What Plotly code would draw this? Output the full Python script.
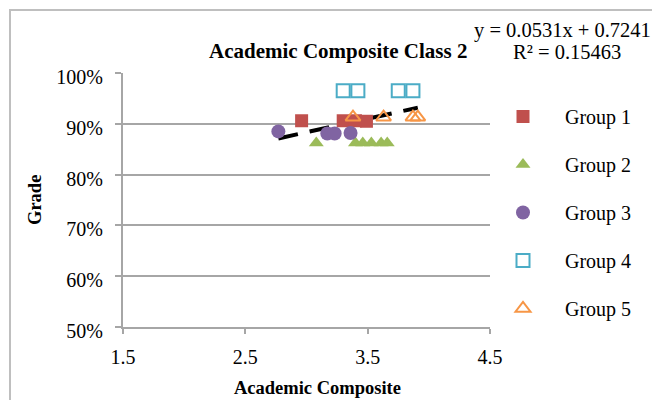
import plotly.graph_objects as go

# ---- data ----
g1_x = [2.96, 3.30, 3.40, 3.49]
g1_y = [0.906, 0.906, 0.906, 0.905]
g2_x = [3.08, 3.40, 3.46, 3.53, 3.61, 3.66]
g2_y = [0.862, 0.862, 0.862, 0.862, 0.862, 0.862]
g3_x = [2.77, 3.17, 3.23, 3.36]
g3_y = [0.885, 0.881, 0.881, 0.882]
g4_x = [3.30, 3.42, 3.75, 3.87]
g4_y = [0.965, 0.965, 0.965, 0.965]
g5_x = [3.38, 3.63, 3.87, 3.91]
g5_y = [0.913, 0.913, 0.913, 0.913]

slope = 0.0531
intercept = 0.7241
r2 = 0.15463

series = [
    ("Group 1", g1_x, g1_y, "square", "#C0504D", True),
    ("Group 2", g2_x, g2_y, "triangle-up", "#9BBB59", True),
    ("Group 3", g3_x, g3_y, "circle", "#8064A2", True),
    ("Group 4", g4_x, g4_y, "square-open", "#4BACC6", False),
    ("Group 5", g5_x, g5_y, "triangle-up-open", "#F79646", False),
]

FONT = "Liberation Serif, Times New Roman, serif"

fig = go.Figure()

all_x = g1_x + g2_x + g3_x + g4_x + g5_x
tx = [min(all_x), max(all_x)]
ty = [slope * v + intercept for v in tx]
fig.add_trace(go.Scatter(x=tx, y=ty, mode="lines", showlegend=False,
                         line=dict(color="black", width=4, dash="20px,12px"),
                         hoverinfo="skip"))

for i, (name, xs, ys, sym, col, filled) in enumerate(series):
    fig.add_trace(go.Scatter(
        x=xs, y=ys, mode="markers", name=name, legendgroup=f"g{i}",
        marker=dict(symbol=sym, size=13 if "circle" not in sym else 14,
                    color=col, line=dict(color=col, width=2 if not filled else 0)),
    ))

W, H = 652, 400
L, R, T, B = 123, 162, 73, 73
pw, ph = W - L - R, H - T - B

def px(xp):
    return (xp - L) / pw

def py(yp):
    return (H - B - yp) / ph

fig.update_layout(
    width=W, height=H,
    margin=dict(l=L, r=R, t=T, b=B),
    paper_bgcolor="white", plot_bgcolor="white",
    font=dict(family=FONT, size=20, color="black"),
    showlegend=True,
    legend=dict(x=px(481), y=py(97), xanchor="left", yanchor="top",
                font=dict(family=FONT, size=20), tracegroupgap=19,
                itemwidth=74, bgcolor="rgba(0,0,0,0)"),
    xaxis=dict(range=[1.5, 4.5], tickvals=[1.5, 2.5, 3.5, 4.5],
               ticktext=["1.5", "2.5", "3.5", "4.5"],
               showgrid=False, zeroline=False, showline=True,
               linecolor="#A6A6A6", linewidth=2, ticks="outside",
               ticklen=5, tickcolor="#A6A6A6", tickwidth=2,
               ticklabelstandoff=6,
               tickfont=dict(family=FONT, size=20)),
    yaxis=dict(range=[0.5, 1.0], tickvals=[0.5, 0.6, 0.7, 0.8, 0.9, 1.0],
               tickformat=".0%", showgrid=True, gridcolor="#A6A6A6",
               gridwidth=2, zeroline=False, showline=True,
               linecolor="#A6A6A6", linewidth=2, ticks="outside",
               ticklen=6, tickcolor="#A6A6A6", tickwidth=2,
               ticklabelstandoff=8, ticklabelshift=4,
               tickfont=dict(family=FONT, size=20)),
)

fig.add_shape(type="rect", xref="paper", yref="paper",
              x0=px(10), x1=px(700), y0=py(450), y1=py(10),
              line=dict(color="#BFBFBF", width=2), layer="below")

fig.add_annotation(text="<b>Academic Composite Class 2</b>", xref="paper", yref="paper",
                   x=px(338), y=py(51), showarrow=False,
                   font=dict(family=FONT, size=21), xanchor="center", yanchor="middle")
fig.add_annotation(text=f"y = {slope}x + {intercept}", xref="paper", yref="paper",
                   x=px(472), y=py(30), showarrow=False,
                   font=dict(family=FONT, size=20.5), xanchor="left", yanchor="middle")
fig.add_annotation(text=f"R² = {r2}", xref="paper", yref="paper",
                   x=px(511), y=py(52), showarrow=False,
                   font=dict(family=FONT, size=20.5), xanchor="left", yanchor="middle")
fig.add_annotation(text="<b>Grade</b>", xref="paper", yref="paper",
                   x=px(35), y=py(200), showarrow=False, textangle=-90,
                   font=dict(family=FONT, size=18.5), xanchor="center", yanchor="middle")
fig.add_annotation(text="<b>Academic Composite</b>", xref="paper", yref="paper",
                   x=px(317), y=py(388), showarrow=False,
                   font=dict(family=FONT, size=18.5), xanchor="center", yanchor="middle")

fig.write_html("out.html")
